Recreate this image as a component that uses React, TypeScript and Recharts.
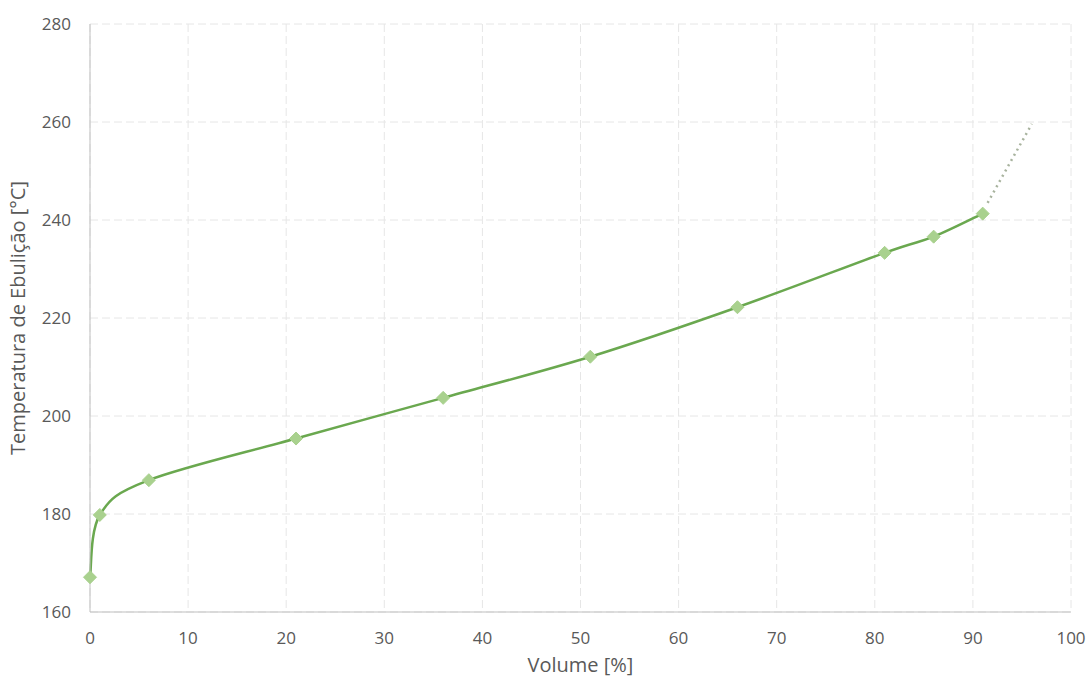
import { LineChart, Line, XAxis, YAxis, CartesianGrid } from 'recharts';

// distillation curve
const volume = [0, 1, 6, 21, 36, 51, 66, 81, 86, 91];
const temperature = [167.1, 179.8, 186.9, 195.4, 203.7, 212.1, 222.2, 233.3, 236.6, 241.3];

// dotted extrapolation past the last measured point
const extVolume = [91.5, 96];
const extTemperature = [243.5, 259.6];

const xTicks = [0, 10, 20, 30, 40, 50, 60, 70, 80, 90, 100];
const yTicks = [160, 180, 200, 220, 240, 260, 280];

const curve = volume.map((v, i) => ({ v, t: temperature[i] }));
const extension = extVolume.map((v, i) => ({ v, t: extTemperature[i] }));

const font = "'Open Sans', 'Noto Sans', sans-serif";
const tickStyle = { fontSize: 17, fill: '#595959', fontFamily: font };
const titleStyle = { fontSize: 20, fill: '#595959', fontFamily: font };

// Excel-like smoothing: Catmull-Rom through every point, as bezier segments
function excelSmooth(context: any) {
  let pts: [number, number][] = [];
  return {
    areaStart() {},
    areaEnd() {},
    lineStart() {
      pts = [];
    },
    point(x: number, y: number) {
      pts.push([+x, +y]);
    },
    lineEnd() {
      if (!pts.length) return;
      context.moveTo(pts[0][0], pts[0][1]);
      for (let i = 0; i < pts.length - 1; i++) {
        const p0 = pts[Math.max(i - 1, 0)];
        const p1 = pts[i];
        const p2 = pts[i + 1];
        const p3 = pts[Math.min(i + 2, pts.length - 1)];
        context.bezierCurveTo(
          p1[0] + (p2[0] - p0[0]) / 6,
          p1[1] + (p2[1] - p0[1]) / 6,
          p2[0] - (p3[0] - p1[0]) / 6,
          p2[1] - (p3[1] - p1[1]) / 6,
          p2[0],
          p2[1]
        );
      }
    },
  };
}

function Diamond(props: any) {
  const { cx, cy } = props;
  if (cx == null || cy == null) return null;
  const r = 6.5;
  return (
    <path
      d={`M${cx},${cy - r}L${cx + r},${cy}L${cx},${cy + r}L${cx - r},${cy}Z`}
      fill="#a9d18e"
      stroke="#a9d18e"
    />
  );
}

export default function App() {
  return (
    <div style={{ position: 'absolute', left: 0, top: 0, width: 1089, height: 684, background: '#fff' }}>
      <LineChart
        width={1089}
        height={684}
        margin={{ top: 24, right: 18, bottom: 32, left: 30 }}
      >
        <CartesianGrid stroke="#e6e6e6" strokeDasharray="8 4" />
        <XAxis
          dataKey="v"
          type="number"
          domain={[0, 100]}
          ticks={xTicks}
          height={40}
          tickLine={false}
          tickSize={0}
          tickMargin={20}
          stroke="#bfbfbf"
          tick={tickStyle}
          label={{ value: 'Volume [%]', position: 'insideBottom', offset: -20, style: titleStyle }}
        />
        <YAxis
          dataKey="t"
          type="number"
          domain={[160, 280]}
          ticks={yTicks}
          width={60}
          tickLine={false}
          tickSize={0}
          tickMargin={19}
          stroke="#bfbfbf"
          tick={tickStyle}
          label={{
            value: 'Temperatura de Ebulição [°C]',
            angle: -90,
            position: 'insideLeft',
            offset: -12,
            style: { ...titleStyle, textAnchor: 'middle' },
          }}
        />
        <Line
          data={extension}
          dataKey="t"
          type="linear"
          stroke="#a8b39e"
          strokeWidth={2.5}
          strokeDasharray="2 4"
          dot={false}
          activeDot={false}
          isAnimationActive={false}
        />
        <Line
          data={curve}
          dataKey="t"
          type={excelSmooth as any}
          stroke="#6aa84f"
          strokeWidth={2.5}
          dot={<Diamond />}
          activeDot={false}
          isAnimationActive={false}
        />
      </LineChart>
    </div>
  );
}
